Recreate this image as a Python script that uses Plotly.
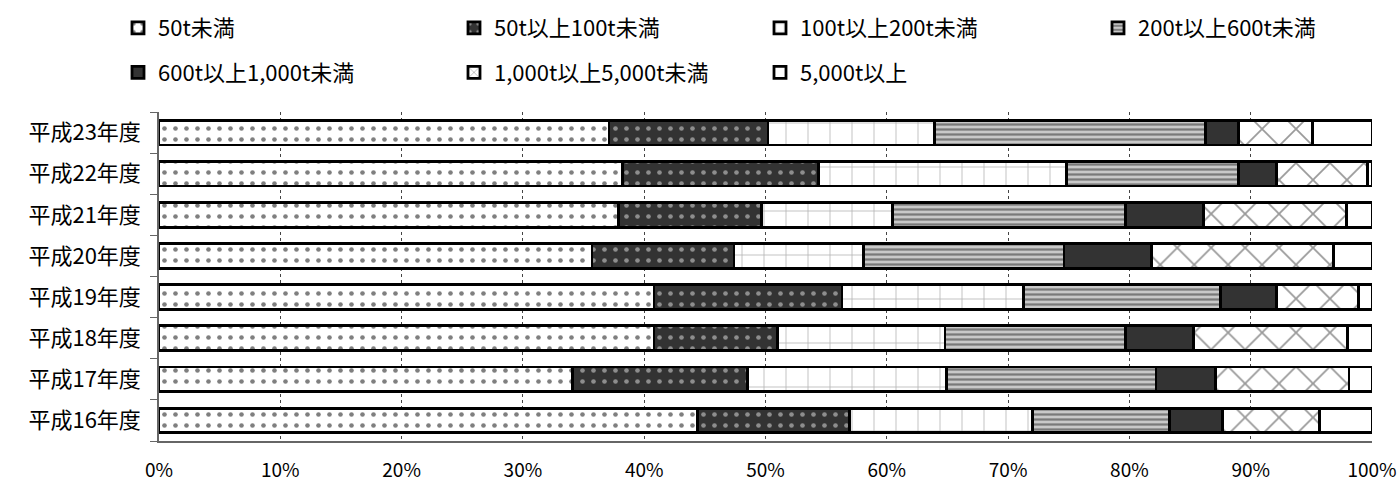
import plotly.graph_objects as go

# 年度 (bottom to top)
years = ["平成16年度", "平成17年度", "平成18年度", "平成19年度",
         "平成20年度", "平成21年度", "平成22年度", "平成23年度"]

# 規模別の構成比 (%)
lt50 = [44.4, 34.1, 40.8, 40.8, 35.7, 37.9, 38.2, 37.1]
r50_100 = [12.5, 14.4, 10.2, 15.5, 11.7, 11.8, 16.2, 13.1]
r100_200 = [15.1, 16.4, 13.8, 15.0, 10.7, 10.8, 20.4, 13.7]
r200_600 = [11.3, 17.3, 14.9, 16.2, 16.5, 19.2, 14.2, 22.4]
r600_1000 = [4.4, 4.9, 5.6, 4.6, 7.2, 6.4, 3.1, 2.7]
r1000_5000 = [8.0, 11.0, 12.7, 6.8, 15.0, 11.8, 7.5, 6.1]
ge5000 = [4.3, 1.9, 2.0, 1.1, 3.2, 2.1, 0.4, 4.9]

series_names = ["50t未満", "50t以上100t未満", "100t以上200t未満", "200t以上600t未満",
                "600t以上1,000t未満", "1,000t以上5,000t未満", "5,000t以上"]
series_values = [lt50, r50_100, r100_200, r200_600, r600_1000, r1000_5000, ge5000]

x_tickvals = list(range(0, 101, 10))
x_ticktext = [f"{v}%" for v in x_tickvals]

FONT = "Noto Sans CJK JP"
DARK = "#333333"

styles = [
    dict(color="white", pattern=dict(shape=".", fgcolor="#000", bgcolor="white",
                                     size=11, solidity=0.14, fillmode="overlay")),
    dict(color=DARK, pattern=dict(shape=".", fgcolor="#e8e8e8", bgcolor=DARK,
                                  size=11, solidity=0.14, fillmode="overlay")),
    dict(color="white", pattern=dict(shape="+", fgcolor="#666", bgcolor="white",
                                     size=22, solidity=0.07, fillmode="overlay")),
    dict(color="#bbbbbb", pattern=dict(shape="-", fgcolor="#2a2a2a", bgcolor="#c8c8c8",
                                       size=5, solidity=0.45, fillmode="overlay")),
    dict(color=DARK),
    dict(color="white", pattern=dict(shape="x", fgcolor="#333", bgcolor="white",
                                     size=24, solidity=0.14, fillmode="overlay")),
    dict(color="white"),
]

# legend column assignment (4 columns, 2 rows)
legend_ids = ["legend", "legend2", "legend3", "legend4", "legend", "legend2", "legend3"]

fig = go.Figure()
for i, (name, vals) in enumerate(zip(series_names, series_values)):
    st = styles[i]
    marker = dict(color=st["color"], line=dict(color="black", width=2.8))
    if "pattern" in st:
        marker["pattern"] = st["pattern"]
    fig.add_trace(go.Bar(
        y=years, x=vals, name=name, orientation="h",
        marker=marker, legend=legend_ids[i], legendgroup=name,
        hovertemplate="%{y}: %{x}%<extra>" + name + "</extra>",
    ))

legend_common = dict(
    orientation="v", xref="container", yref="container",
    yanchor="top", xanchor="left", y=1 - 7 / 485,
    font=dict(family=FONT, size=22, color="black"),
    bgcolor="rgba(0,0,0,0)", traceorder="grouped", tracegroupgap=13,
    itemwidth=30,
)
col_x = [118, 454, 760, 1098]

fig.update_layout(
    width=1400, height=485,
    margin=dict(l=159, r=28, t=112, b=44, autoexpand=False),
    paper_bgcolor="white", plot_bgcolor="white",
    barmode="stack", bargap=0.4,
    font=dict(family=FONT, color="black"),
    legend=dict(legend_common, x=col_x[0] / 1400),
    legend2=dict(legend_common, x=col_x[1] / 1400),
    legend3=dict(legend_common, x=col_x[2] / 1400),
    legend4=dict(legend_common, x=col_x[3] / 1400),
    xaxis=dict(
        range=[0, 100], tickmode="array", tickvals=x_tickvals, ticktext=x_ticktext,
        showgrid=True, gridcolor="#444", griddash="dot", gridwidth=1,
        showline=True, linecolor="#666", linewidth=1.5,
        ticks="", ticklabelstandoff=11,
        tickfont=dict(family=FONT, size=19, color="black"),
        zeroline=False, fixedrange=True,
    ),
    yaxis=dict(
        type="category", categoryorder="array", categoryarray=years,
        showline=True, linecolor="#666", linewidth=1.5,
        ticks="outside", tickson="boundaries", ticklen=7, tickcolor="#666",
        ticklabelstandoff=12,
        tickfont=dict(family=FONT, size=22, color="black"),
        showgrid=False, fixedrange=True,
    ),
)

fig.write_html("out.html")
